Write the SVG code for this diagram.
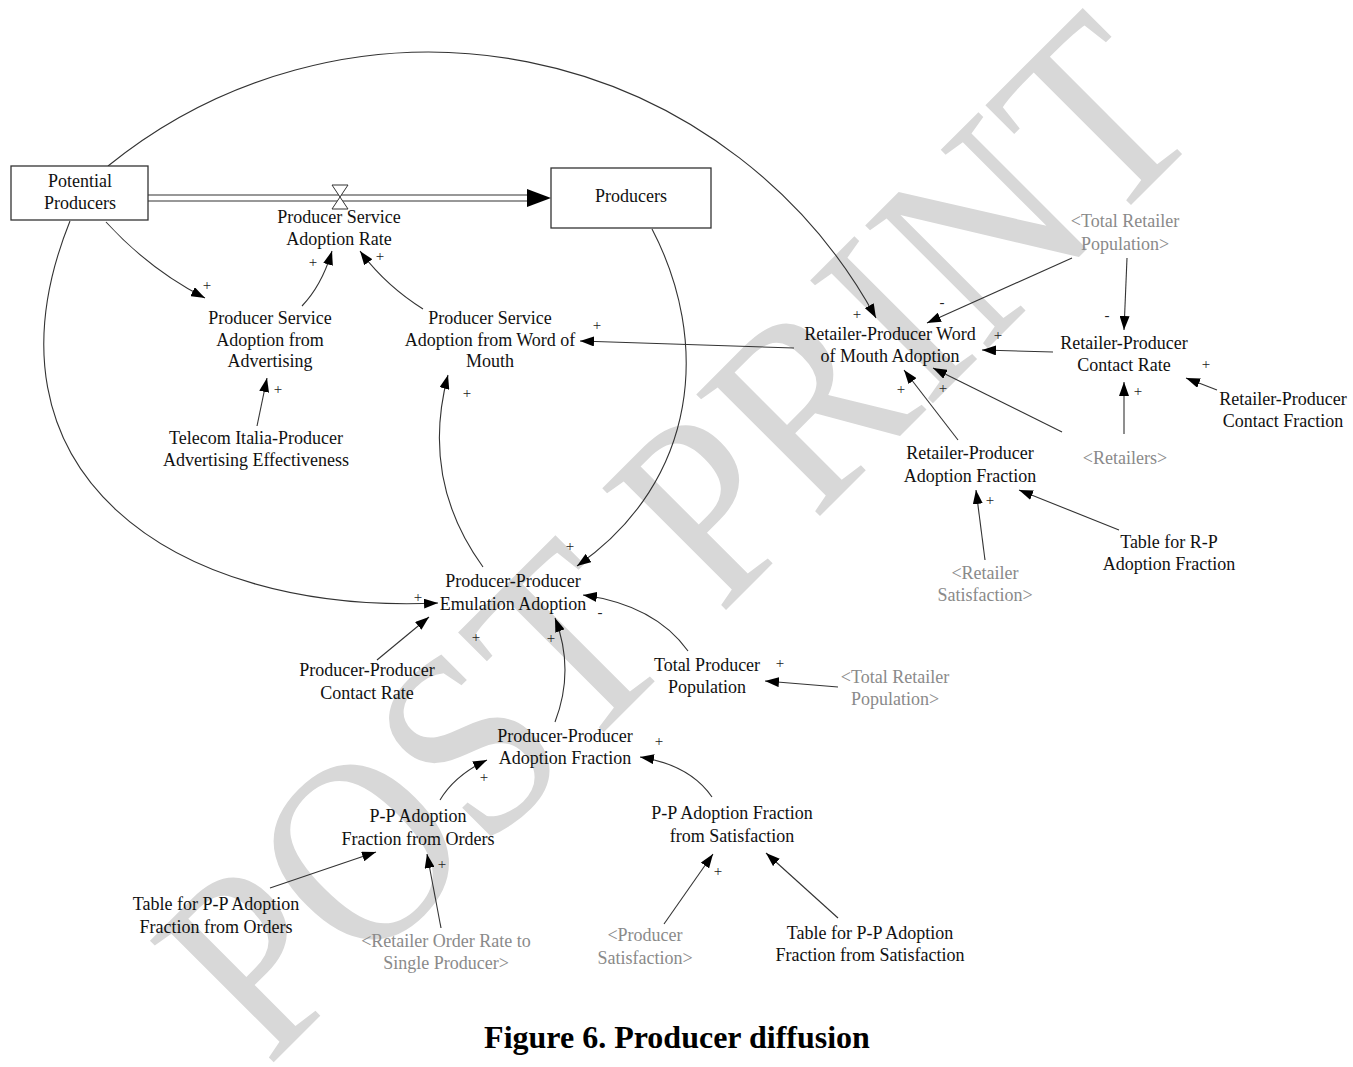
<svg xmlns="http://www.w3.org/2000/svg" width="1353" height="1067" viewBox="0 0 1353 1067">
  <style>
    .lbl { font-family: "Liberation Serif", "Times New Roman", serif; font-size: 18px; fill: #111; text-anchor: middle; }
    .shadow { fill: #8a8a8a; }
    .sign { font-family: "Liberation Serif", "Times New Roman", serif; font-size: 15px; fill: #222; text-anchor: middle; }
    .link { fill: none; stroke: #333; stroke-width: 1.1; marker-end: url(#ah); }
    .stock { fill: #fff; stroke: #333; stroke-width: 1.3; }
    .pipe { stroke: #333; stroke-width: 1.2; }
    .wm { font-family: "Liberation Serif", "Times New Roman", serif; font-size: 265px; fill: #d8d8d8; text-anchor: middle; }
    .caption { font-family: "Liberation Serif", "Times New Roman", serif; font-size: 32px; font-weight: bold; fill: #000; text-anchor: middle; }
  </style>
  <defs>
    <marker id="ah" viewBox="0 0 14 10" refX="14" refY="5" markerWidth="14" markerHeight="10" markerUnits="userSpaceOnUse" orient="auto">
      <path d="M0,0 L14,5 L0,10 z" fill="#000"/>
    </marker>
  </defs>

  <rect width="1353" height="1067" fill="#fff"/>

  <!-- watermark -->
  <text class="wm" x="738" y="598" textLength="1330" lengthAdjust="spacingAndGlyphs" transform="rotate(-45 738 598)">POST PRINT</text>

  <!-- connectors -->
  <g id="connectors">
    <!-- material flow pipe -->
    <line class="pipe" x1="148" y1="195" x2="530" y2="195"/>
    <line class="pipe" x1="148" y1="201" x2="530" y2="201"/>
    <path d="M527,189 L551,198 L527,207 z" fill="#000"/>
    <!-- valve -->
    <path d="M332,185 L348,185 L340,197 z M340,197 L332,209 L348,209 z" fill="#fff" stroke="#333" stroke-width="1"/>

    <path class="link" d="M108,166 A509,509 0 0,1 876,318"/>
    <path class="link" d="M70,221 C-30,470 170,615 438,603"/>
    <path class="link" d="M652,229 C710,340 700,480 577,566"/>
    <path class="link" d="M106,222 Q150,270 205,298"/>
    <path class="link" d="M302,306 Q322,285 332,251"/>
    <path class="link" d="M423,309 Q385,285 360,251"/>
    <path class="link" d="M257,426 L267,378"/>
    <path class="link" d="M794,348 L580,341"/>
    <path class="link" d="M483,567 Q420,480 448,375"/>
    <path class="link" d="M1072,258 L927,323"/>
    <path class="link" d="M1127,258 L1124,330"/>
    <path class="link" d="M1053,352 L982,350"/>
    <path class="link" d="M1217,390 L1186,378"/>
    <path class="link" d="M1124,434 L1124,382"/>
    <path class="link" d="M1062,432 L933,368"/>
    <path class="link" d="M958,440 L904,370"/>
    <path class="link" d="M985,560 L976,490"/>
    <path class="link" d="M1119,530 L1019,490"/>
    <path class="link" d="M377,660 L429,617"/>
    <path class="link" d="M555,722 Q575,670 555,618"/>
    <path class="link" d="M688,651 Q655,605 583,595"/>
    <path class="link" d="M838,687 L765,681"/>
    <path class="link" d="M440,800 Q455,775 487,760"/>
    <path class="link" d="M712,797 Q690,765 640,757"/>
    <path class="link" d="M270,888 L376,852"/>
    <path class="link" d="M441,928 L427,854"/>
    <path class="link" d="M664,924 L713,854"/>
    <path class="link" d="M838,918 L766,853"/>
  </g>

  <!-- polarity signs -->
  <g id="signs">
    <text class="sign" x="207" y="290">+</text>
    <text class="sign" x="313" y="267">+</text>
    <text class="sign" x="380" y="261">+</text>
    <text class="sign" x="278" y="394">+</text>
    <text class="sign" x="597" y="330">+</text>
    <text class="sign" x="467" y="398">+</text>
    <text class="sign" x="857" y="319">+</text>
    <text class="sign" x="942" y="307">-</text>
    <text class="sign" x="998" y="340">+</text>
    <text class="sign" x="1107" y="320">-</text>
    <text class="sign" x="1206" y="369">+</text>
    <text class="sign" x="1138" y="396">+</text>
    <text class="sign" x="901" y="394">+</text>
    <text class="sign" x="943" y="393">+</text>
    <text class="sign" x="990" y="505">+</text>
    <text class="sign" x="570" y="551">+</text>
    <text class="sign" x="418" y="602">+</text>
    <text class="sign" x="600" y="617">-</text>
    <text class="sign" x="476" y="642">+</text>
    <text class="sign" x="551" y="643">+</text>
    <text class="sign" x="780" y="668">+</text>
    <text class="sign" x="659" y="746">+</text>
    <text class="sign" x="484" y="782">+</text>
    <text class="sign" x="442" y="869">+</text>
    <text class="sign" x="718" y="876">+</text>
  </g>

  <!-- stocks -->
  <g id="potential-producers">
    <rect class="stock" x="11" y="166" width="137" height="54"/>
    <text class="lbl"><tspan x="80" y="187">Potential</tspan><tspan x="80" y="209">Producers</tspan></text>
  </g>
  <g id="producers">
    <rect class="stock" x="551" y="168" width="160" height="60"/>
    <text class="lbl" x="631" y="202">Producers</text>
  </g>

  <!-- auxiliaries -->
  <g id="adoption-rate">
    <text class="lbl"><tspan x="339" y="223">Producer Service</tspan><tspan x="339" y="245">Adoption Rate</tspan></text>
  </g>
  <g id="adoption-advertising">
    <text class="lbl"><tspan x="270" y="324">Producer Service</tspan><tspan x="270" y="346">Adoption from</tspan><tspan x="270" y="367">Advertising</tspan></text>
  </g>
  <g id="adoption-wom">
    <text class="lbl"><tspan x="490" y="324">Producer Service</tspan><tspan x="490" y="346">Adoption from Word of</tspan><tspan x="490" y="367">Mouth</tspan></text>
  </g>
  <g id="advertising-effectiveness">
    <text class="lbl"><tspan x="256" y="444">Telecom Italia-Producer</tspan><tspan x="256" y="466">Advertising Effectiveness</tspan></text>
  </g>
  <g id="rp-wom-adoption">
    <text class="lbl"><tspan x="890" y="340">Retailer-Producer Word</tspan><tspan x="890" y="362">of Mouth Adoption</tspan></text>
  </g>
  <g id="total-retailer-population-1">
    <text class="lbl shadow"><tspan x="1125" y="227">&lt;Total Retailer</tspan><tspan x="1125" y="250">Population&gt;</tspan></text>
  </g>
  <g id="rp-contact-rate">
    <text class="lbl"><tspan x="1124" y="349">Retailer-Producer</tspan><tspan x="1124" y="371">Contact Rate</tspan></text>
  </g>
  <g id="rp-contact-fraction">
    <text class="lbl"><tspan x="1283" y="405">Retailer-Producer</tspan><tspan x="1283" y="427">Contact Fraction</tspan></text>
  </g>
  <g id="retailers">
    <text class="lbl shadow" x="1125" y="464">&lt;Retailers&gt;</text>
  </g>
  <g id="rp-adoption-fraction">
    <text class="lbl"><tspan x="970" y="459">Retailer-Producer</tspan><tspan x="970" y="482">Adoption Fraction</tspan></text>
  </g>
  <g id="table-rp">
    <text class="lbl"><tspan x="1169" y="548">Table for R-P</tspan><tspan x="1169" y="570">Adoption Fraction</tspan></text>
  </g>
  <g id="retailer-satisfaction">
    <text class="lbl shadow"><tspan x="985" y="579">&lt;Retailer</tspan><tspan x="985" y="601">Satisfaction&gt;</tspan></text>
  </g>
  <g id="pp-emulation">
    <text class="lbl"><tspan x="513" y="587">Producer-Producer</tspan><tspan x="513" y="610">Emulation Adoption</tspan></text>
  </g>
  <g id="pp-contact-rate">
    <text class="lbl"><tspan x="367" y="676">Producer-Producer</tspan><tspan x="367" y="699">Contact Rate</tspan></text>
  </g>
  <g id="total-producer-population">
    <text class="lbl"><tspan x="707" y="671">Total Producer</tspan><tspan x="707" y="693">Population</tspan></text>
  </g>
  <g id="total-retailer-population-2">
    <text class="lbl shadow"><tspan x="895" y="683">&lt;Total Retailer</tspan><tspan x="895" y="705">Population&gt;</tspan></text>
  </g>
  <g id="pp-adoption-fraction">
    <text class="lbl"><tspan x="565" y="742">Producer-Producer</tspan><tspan x="565" y="764">Adoption Fraction</tspan></text>
  </g>
  <g id="pp-fraction-orders">
    <text class="lbl"><tspan x="418" y="822">P-P Adoption</tspan><tspan x="418" y="845">Fraction from Orders</tspan></text>
  </g>
  <g id="pp-fraction-satisfaction">
    <text class="lbl"><tspan x="732" y="819">P-P Adoption Fraction</tspan><tspan x="732" y="842">from Satisfaction</tspan></text>
  </g>
  <g id="table-pp-orders">
    <text class="lbl"><tspan x="216" y="910">Table for P-P Adoption</tspan><tspan x="216" y="933">Fraction from Orders</tspan></text>
  </g>
  <g id="retailer-order-rate">
    <text class="lbl shadow"><tspan x="446" y="947">&lt;Retailer Order Rate to</tspan><tspan x="446" y="969">Single Producer&gt;</tspan></text>
  </g>
  <g id="producer-satisfaction">
    <text class="lbl shadow"><tspan x="645" y="941">&lt;Producer</tspan><tspan x="645" y="964">Satisfaction&gt;</tspan></text>
  </g>
  <g id="table-pp-satisfaction">
    <text class="lbl"><tspan x="870" y="939">Table for P-P Adoption</tspan><tspan x="870" y="961">Fraction from Satisfaction</tspan></text>
  </g>

  <text class="caption" x="677" y="1048">Figure 6. Producer diffusion</text>
</svg>
